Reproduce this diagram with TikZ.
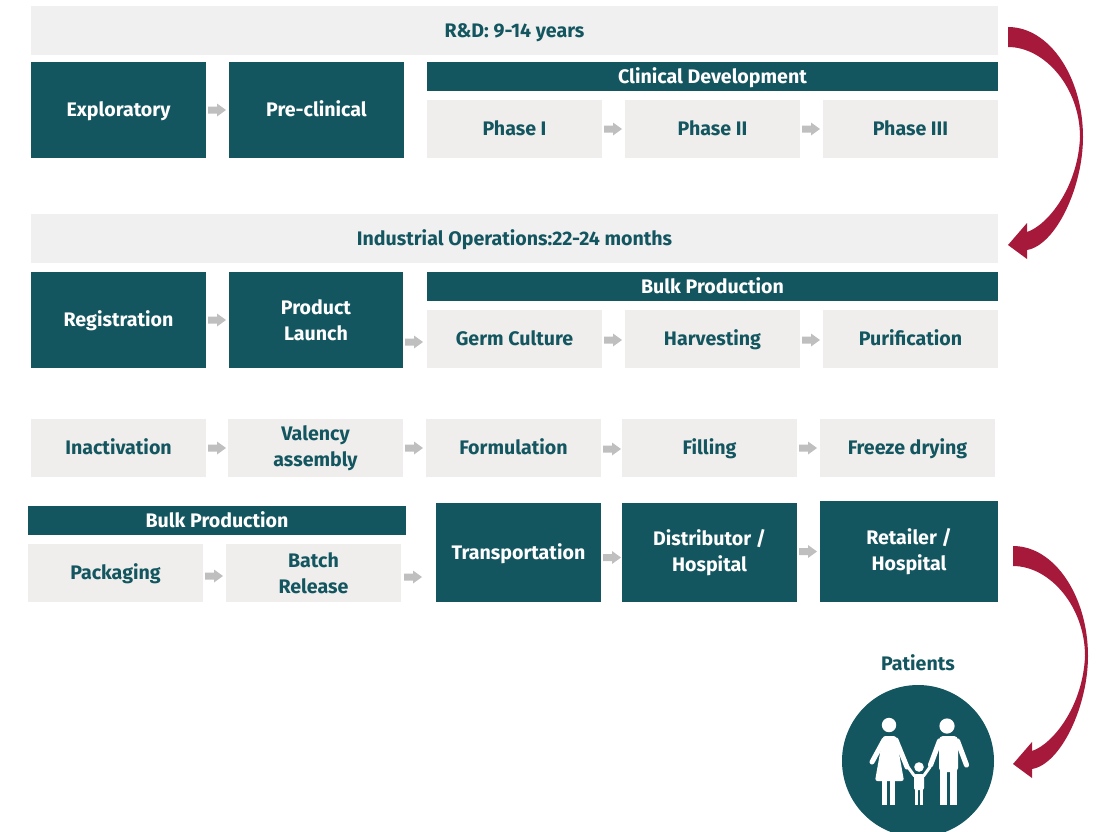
\documentclass[tikz,border=0pt]{standalone}
\usepackage{fontspec}
\setmainfont{Fira Sans}
\usetikzlibrary{calc}
\definecolor{teal1}{RGB}{20,86,96}
\definecolor{boxgray}{RGB}{239,238,236}
\definecolor{bargray}{RGB}{240,240,240}
\definecolor{argray}{RGB}{191,191,191}
\definecolor{redar}{RGB}{166,25,58}
\tikzset{
 bxs/.style={inner sep=0pt, outer sep=0pt, align=center, font=\fontsize{9.8}{13}\selectfont\bfseries},
 one/.style={text height=7.3pt, text depth=0.5pt},
 two/.style={yshift=-1pt},
 dark/.style={bxs, fill=teal1, text=white},
 light/.style={bxs, fill=boxgray, text=teal1},
 bar/.style={bxs, fill=bargray, text=teal1},
 garrow/.pic={\fill[argray] (0,-3.5) -- (9,-3.5) -- (9,-6.5) -- (18,0) -- (9,6.5) -- (9,3.5) -- (0,3.5) -- cycle;},
 redarrow/.pic={\fill[redar] (0,0) .. controls (42,0) and (75,51) .. (75,110) .. controls (75,160) and (48,218) .. (19,223) -- (19,232) -- (0,218) -- (19,196) -- (19,205) .. controls (40,198) and (70,160) .. (72,110) .. controls (72,61) and (37,20) .. (0,20) -- cycle;},
 limb/.style={white, line cap=round}
}
\newcommand\mkbox[7]{\node[#2, minimum width={(#5-#3)*0.5pt}, minimum height={(#6-#4)*0.5pt}] (#1) at ({(#3+#5)/2},{(#4+#6)/2}) {#7};}
\begin{document}
\begin{tikzpicture}[x=0.5pt,y=-0.5pt]
\useasboundingbox (0,0) rectangle (1098,831);
\clip (0,0) rectangle (1098,831);
% R&D
\mkbox{rd}{bar,one}{31}{6}{998}{55}{R\&D: 9-14 years}
\mkbox{expl}{dark,one}{31}{62}{206}{158}{Exploratory}
\mkbox{prec}{dark,one}{229}{62}{404}{158}{Pre-clinical}
\mkbox{clin}{dark,one}{427}{62}{998}{91}{Clinical Development}
\mkbox{ph1}{light,one}{427}{100}{602}{158}{Phase I}
\mkbox{ph2}{light,one}{625}{100}{800}{158}{Phase II}
\mkbox{ph3}{light,one}{823}{100}{998}{158}{Phase III}
% Industrial
\mkbox{ind}{bar,one}{31}{214}{998}{263}{Industrial Operations:22-24 months}
\mkbox{reg}{dark,one}{31}{272}{206}{368}{Registration}
\mkbox{launch}{dark}{229}{272}{403}{368}{Product\\Launch}
\mkbox{bulk1}{dark,one}{427}{272}{998}{301}{Bulk Production}
\mkbox{germ}{light,one}{427}{310}{602}{368}{Germ Culture}
\mkbox{harv}{light,one}{625}{310}{800}{368}{Harvesting}
\mkbox{puri}{light,one}{823}{310}{998}{368}{Purification}
% row 3
\mkbox{inact}{light,one}{31}{419}{206}{477}{Inactivation}
\mkbox{val}{light}{228}{419}{403}{477}{Valency\\assembly}
\mkbox{form}{light,one}{426}{419}{601}{477}{Formulation}
\mkbox{fill}{light,one}{622}{419}{797}{477}{Filling}
\mkbox{freeze}{light,one}{820}{419}{995}{477}{Freeze drying}
% row 4
\mkbox{bulk2}{dark,one}{28}{506}{406}{535}{Bulk Production}
\mkbox{pack}{light,one}{28}{544}{203}{602}{Packaging}
\mkbox{batch}{light}{226}{544}{401}{602}{Batch\\Release}
\mkbox{trans}{dark,one}{436}{503}{601}{602}{Transportation}
\mkbox{dist}{dark}{622}{503}{797}{602}{Distributor /\\Hospital}
\mkbox{ret}{dark}{820}{501}{998}{602}{Retailer /\\Hospital}
% small arrows
\pic at ($(expl.east)+(2,0)$) {garrow};
\pic at ($(ph1.east)+(2,0)$) {garrow};
\pic at ($(ph2.east)+(2,0)$) {garrow};
\pic at ($(reg.east)+(2,0)$) {garrow};
\pic at ($(launch.east |- germ.west)+(2,3)$) {garrow};
\pic at ($(germ.east)+(2,1)$) {garrow};
\pic at ($(harv.east)+(2,1)$) {garrow};
\pic at ($(inact.east)+(2,0)$) {garrow};
\pic at ($(val.east)+(2,0)$) {garrow};
\pic at ($(form.east)+(2,1)$) {garrow};
\pic at ($(fill.east)+(2,0)$) {garrow};
\pic at ($(pack.east)+(2,3)$) {garrow};
\pic at ($(batch.east)+(3,4)$) {garrow};
\pic at ($(trans.east)+(2,5)$) {garrow};
\pic at ($(dist.east)+(2,-1)$) {garrow};
% red curved arrows
\pic at ($(rd.north east)+(10,21)$) {redarrow};
\pic at ($(ret.north east)+(15,45)$) {redarrow};
% patients
\node[text=teal1, font=\fontsize{9.8}{13}\selectfont\bfseries] (patlbl) at (918,663) {Patients};
\node[circle, fill=teal1, minimum size=76pt, inner sep=0pt] (pat) at (918,761) {};
% woman
\fill[white] (889,725) circle[radius=3.6pt];
\fill[white, rounded corners=1.2pt] (883,736) -- (896,736) -- (904,781) -- (875,781) -- cycle;
\draw[limb, line width=2.5pt] (884,740) -- (872,762);
\draw[limb, line width=2.5pt] (896,740) -- (907,767);
\draw[white, line width=2.5pt] (884.5,780) -- (884.5,805) (892.5,780) -- (892.5,805);
% man
\fill[white] (947,726) circle[radius=3.8pt];
\fill[white, rounded corners=2pt] (939,736) rectangle (958,772);
\draw[limb, line width=2.6pt] (939.5,741) -- (930.5,765);
\draw[limb, line width=2.6pt] (957.5,741) -- (966.5,765);
\draw[white, line width=3.6pt] (943.5,770) -- (943.5,805) (953.5,770) -- (953.5,805);
% child
\fill[white] (919,767) circle[radius=2.4pt];
\fill[white, rounded corners=1pt] (914,774) rectangle (924,790);
\draw[white, line width=1.6pt] (916.5,789) -- (916.5,805) (921.5,789) -- (921.5,805);
\draw[limb, line width=1.5pt] (914.5,776) -- (908,767) (923.5,776) -- (930,767);
\end{tikzpicture}
\end{document}
